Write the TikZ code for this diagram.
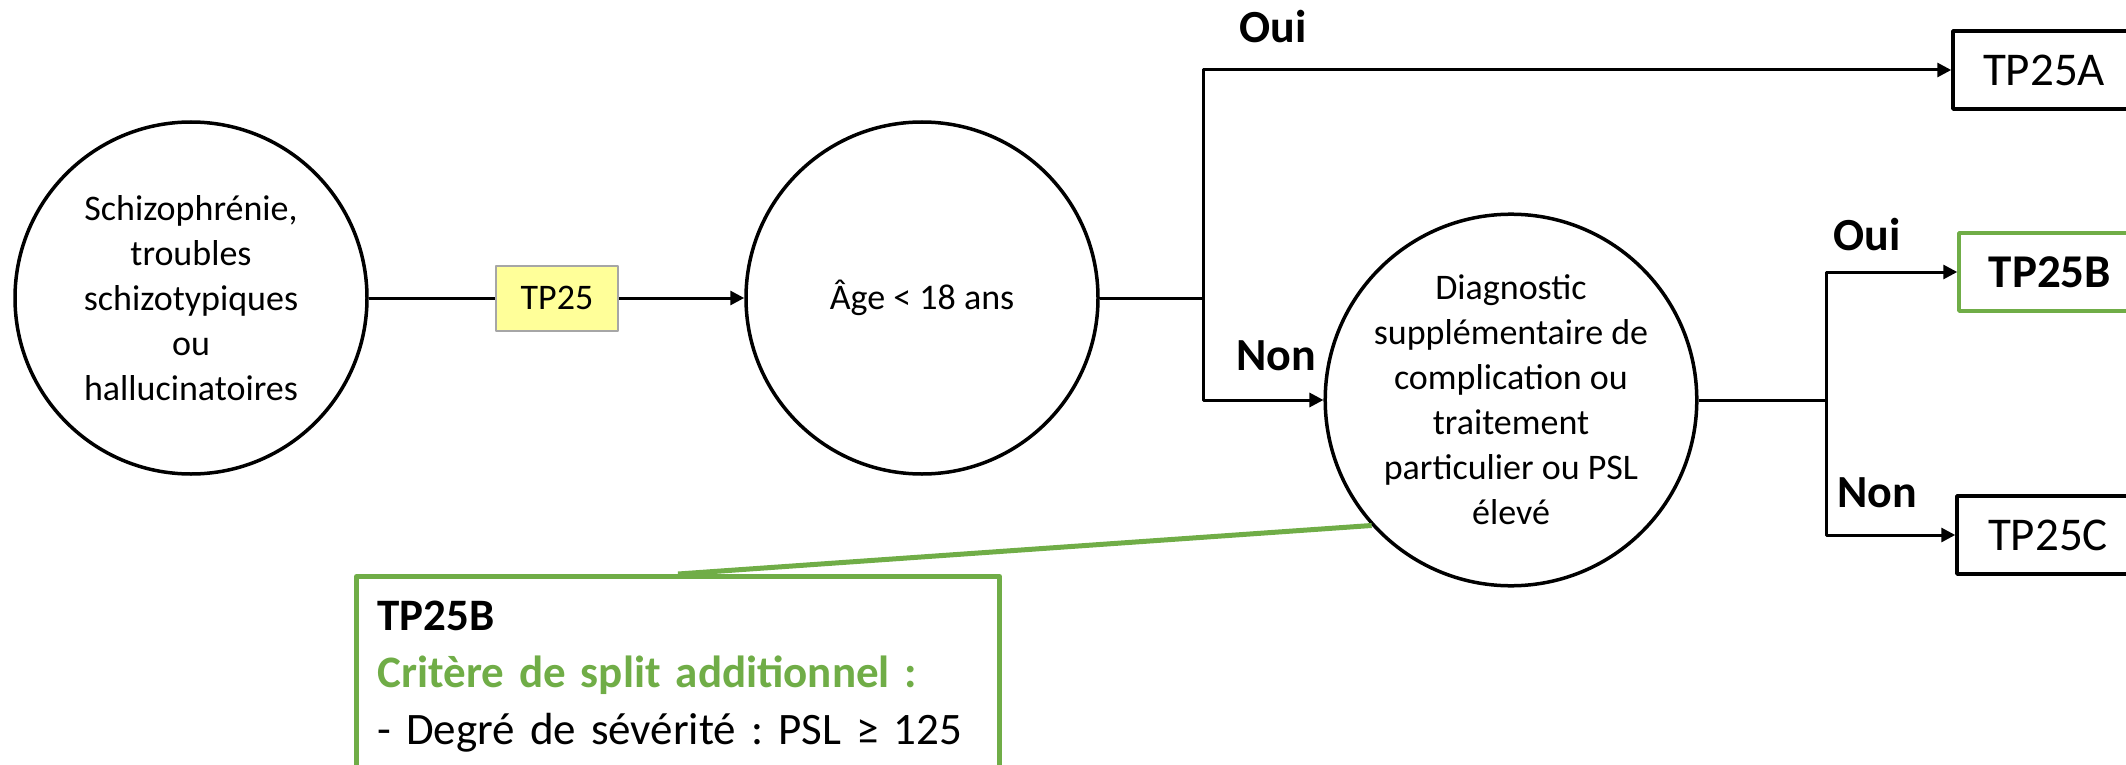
\documentclass[tikz,border=0pt]{standalone}
\usepackage{fontspec}
\setmainfont{Carlito}
\usetikzlibrary{arrows.meta}
\definecolor{vert}{RGB}{112,173,71}
\definecolor{jaune}{RGB}{255,255,153}
\definecolor{gris}{RGB}{166,166,166}
\begin{document}
\frenchspacing
\begin{tikzpicture}[x=0.5pt,y=-0.5pt,line join=round,>={Triangle[length=7pt,width=7pt]},line width=1.5pt]
\tikzset{rond/.style={draw,circle,line width=1.75pt,minimum size=176pt,inner sep=0pt,align=center,font=\fontsize{18}{22.5}\selectfont},
	sortie/.style={draw,line width=1.75pt,minimum width=91pt,minimum height=39pt,inner sep=0pt,font=\fontsize{23.5}{28}\selectfont},
	reponse/.style={font=\fontsize{23}{28}\selectfont\bfseries,anchor=base west,inner sep=0pt}}
\useasboundingbox (0,0) rectangle (2126,765);
\node[rond] (diag) at (191,298) {Schizophrénie,\\troubles\\schizotypiques\\ou\\hallucinatoires};
\node[rond] (age) at (922,298) {Âge < 18 ans};
\node[rond] (compl) at (1511,400) {Diagnostic\\supplémentaire de\\complication ou\\traitement\\particulier ou PSL\\élevé};
\node[draw=gris,fill=jaune,line width=1pt,minimum width=61pt,minimum height=32.5pt,font=\fontsize{18}{22.5}\selectfont] (tp) at (557,298) {TP25};
\node[sortie] (tpa) at (2044,70) {TP25A};
\node[sortie,draw=vert,font=\fontsize{23.5}{28}\selectfont\bfseries] (tpb) at (2050,272) {TP25B};
\node[sortie] (tpc) at (2048,535) {TP25C};
\coordinate (j1) at (1203,298);
\coordinate (j2) at (1826,400);
\draw (diag) -- (tp);
\draw[->] (tp) -- (age);
\draw (age) -- (j1);
\draw[->] (j1) |- (tpa);
\draw[->] (j1) |- (compl);
\draw (compl) -- (j2);
\draw[->] (j2) |- (tpb);
\draw[->] (j2) |- (tpc);
\node[reponse] (oui1) at (1238,43) {Oui};
\node[reponse] (non1) at (1235,370) {Non};
\node[reponse] (oui2) at (1832,250) {Oui};
\node[reponse] (non2) at (1836,507) {Non};
\node[draw=vert,line width=2.5pt,anchor=north west,text width=300.5pt,align=left,inner xsep=10.5pt,inner ysep=12pt,font=\fontsize{22.5}{28.5}\selectfont] (note) at (354,574)
	{\textbf{TP25B}\\\textcolor{vert}{\textbf{Critère de split additionnel :}}\\\mbox{- Degré de sévérité : PSL ≥ 125}};
\draw[vert,line width=2.5pt] (note.north) -- (compl.222);
\end{tikzpicture}
\end{document}
